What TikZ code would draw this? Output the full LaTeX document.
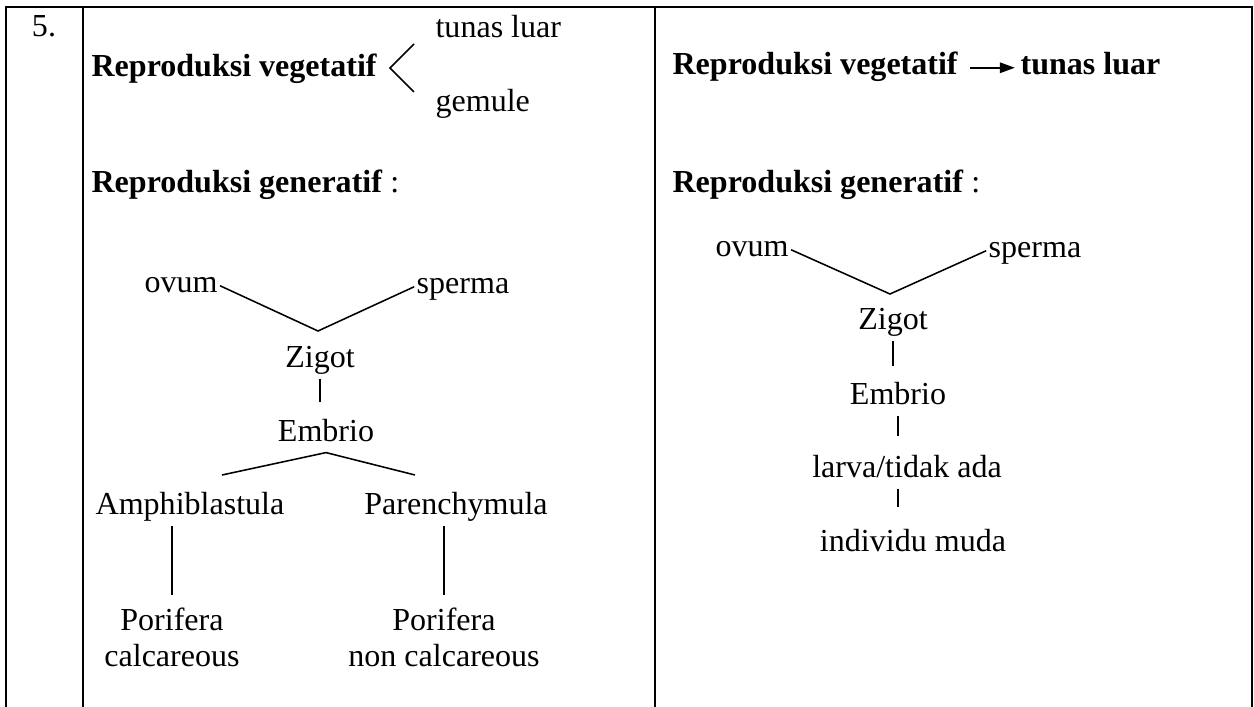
\documentclass[tikz,border=0pt]{standalone}
\usepackage{fontspec}
\setmainfont{Liberation Serif}
\usetikzlibrary{arrows.meta}

\begin{document}
\begin{tikzpicture}[x=0.387pt,y=0.387pt]
			\tikzstyle{lbl}=[inner sep=0.8pt, font=\fontsize{12.4}{14.2}\selectfont, text height=8.7pt, text depth=3.1pt, anchor=base]
			\tikzstyle{twoline}=[inner sep=0.8pt, font=\fontsize{12.4}{14.2}\selectfont, align=center, anchor=north]
			\tikzstyle{grid}=[black, line width=1pt]
			\tikzstyle{link}=[black, line width=0.6pt]
			\useasboundingbox (0,0) rectangle (1254,-707);
			\draw [grid] (6,-707) -- (6,-7) -- (1252,-7) -- (1252,-707);
			\draw [grid] (83,-7) -- (83,-707);
			\draw [grid] (655,-7) -- (655,-707);
			\draw (44,-37) node [lbl] (num) {5.};
			\draw (89,-77) node [lbl, anchor=base west] (vegL) {\textbf{Reproduksi vegetatif}};
			\draw (433,-38) node [lbl, anchor=base west] (tunasL) {tunas luar};
			\draw (433,-112) node [lbl, anchor=base west] (gemL) {gemule};
			\coordinate (forkL) at (390,-68);
			\coordinate (forkLa) at (414,-44);
			\coordinate (forkLb) at (414,-92);
			\draw [link] (forkLa) -- (forkL) -- (forkLb);
			\draw (89,-193) node [lbl, anchor=base west] (genL) {\textbf{Reproduksi generatif} :};
			\draw (181,-293) node [lbl] (ovumL) {ovum};
			\draw (463,-294) node [lbl] (spermaL) {sperma};
			\coordinate (zygL) at (318,-331);
			\draw [link] (ovumL.east) -- (zygL) -- (spermaL.west);
			\draw (320,-368) node [lbl] (zigotL) {Zigot};
			\draw (326,-442) node [lbl] (embrioL) {Embrio};
			\draw [link, shorten >=5.9pt] (zigotL.south) -- (zigotL.south |- embrioL.north);
			\coordinate (brLa) at (222,-475);
			\coordinate (brLb) at (415,-475);
			\draw [link] (brLa) -- (embrioL.south) -- (brLb);
			\draw (190,-515) node [lbl] (amphiL) {Amphiblastula};
			\draw (456,-515) node [lbl] (parenL) {Parenchymula};
			\draw (172,-605) node [twoline] (poriL) {Porifera\\calcareous};
			\draw (444,-605) node [twoline] (poriR) {Porifera\\non calcareous};
			\draw [link, shorten >=3.9pt] (poriL.north |- amphiL.south) -- (poriL.north);
			\draw [link, shorten >=3.9pt] (poriR.north |- parenL.south) -- (poriR.north);
			\draw (670,-75) node [lbl, anchor=base west] (vegR) {\textbf{Reproduksi vegetatif}};
			\draw (1018,-75) node [lbl, anchor=base west] (tunasR) {\textbf{tunas luar}};
			\draw [black, line width=0.8pt, -{Triangle[length=5.8pt,width=4pt]}, shorten <=3.5pt, shorten >=1.2pt] (vegR.east) -- (tunasR.west);
			\draw (670,-193) node [lbl, anchor=base west] (genR) {\textbf{Reproduksi generatif} :};
			\draw (752,-257) node [lbl] (ovumR) {ovum};
			\draw (1035,-258) node [lbl] (spermaR) {sperma};
			\coordinate (zygR) at (890,-294);
			\draw [link] (ovumR.east) -- (zygR) -- (spermaR.west);
			\draw (893,-330) node [lbl] (zigotR) {Zigot};
			\draw (898,-405) node [lbl] (embrioR) {Embrio};
			\draw (907,-478) node [lbl] (larvaR) {larva/tidak ada};
			\draw (913,-552) node [lbl] (indivR) {individu muda};
			\draw [link, shorten >=5.4pt] (zigotR.south) -- (zigotR.south |- embrioR.north);
			\draw [link, shorten >=6.6pt] (embrioR.south) -- (embrioR.south |- larvaR.north);
			\draw [link, shorten >=7.7pt] (embrioR.south |- larvaR.south) -- (embrioR.south |- indivR.north);
\end{tikzpicture}
\end{document}
